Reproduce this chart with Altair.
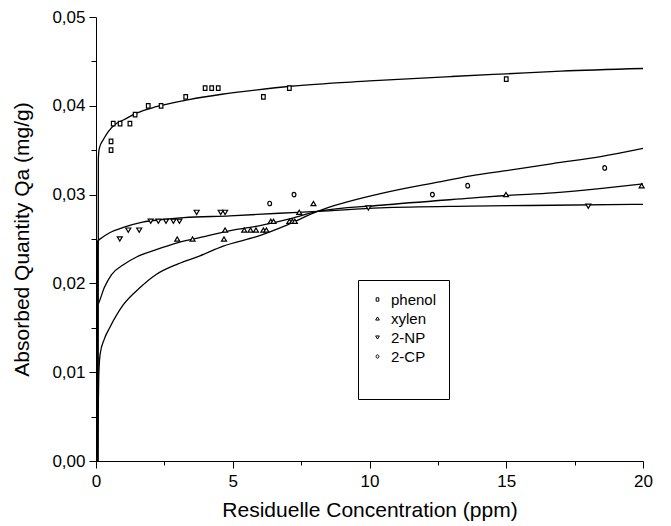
import altair as alt
import pandas as pd

# ---------------- data ----------------
series_names = ["phenol", "xylen", "2-NP", "2-CP"]

phenol_x = [0.55, 0.55, 0.63, 0.88, 1.24, 1.43, 1.91, 2.38, 3.28, 3.99, 4.23, 4.47, 6.12, 7.07, 15.0]
phenol_y = [0.035, 0.036, 0.038, 0.038, 0.038, 0.039, 0.040, 0.040, 0.041, 0.042, 0.042, 0.042, 0.041, 0.042, 0.043]

xylen_x = [2.97, 3.53, 4.68, 4.72, 5.42, 5.65, 5.85, 6.12, 6.23, 6.39, 6.49, 7.07, 7.18, 7.27, 7.43, 7.95, 14.99, 19.95]
xylen_y = [0.025, 0.025, 0.025, 0.026, 0.026, 0.026, 0.026, 0.026, 0.026, 0.027, 0.027, 0.027, 0.027, 0.027, 0.028, 0.029, 0.030, 0.031]

np_x = [0.87, 1.18, 1.58, 2.0, 2.28, 2.56, 2.83, 3.05, 3.68, 4.56, 4.72, 9.96, 18.0]
np_y = [0.025, 0.026, 0.026, 0.027, 0.027, 0.027, 0.027, 0.027, 0.028, 0.028, 0.028, 0.0285, 0.0287]

cp_x = [6.35, 7.24, 12.3, 13.59, 18.6]
cp_y = [0.029, 0.030, 0.030, 0.031, 0.033]

# fitted curves
phenol_cx = [0.08, 0.085, 0.12, 0.27, 0.45, 0.69, 1.0, 1.5, 2.2, 3.4, 4.6, 5.9, 7.1, 10, 13, 15, 17, 20]
phenol_cy = [0.0, 0.034, 0.0352, 0.0362, 0.0371, 0.0379, 0.0384, 0.0392, 0.0399, 0.0407, 0.0413, 0.0418, 0.0422, 0.0428, 0.0433, 0.0436, 0.0439, 0.0442]

np_cx = [0.04, 0.05, 0.2, 0.5, 1.0, 1.7, 2.5, 3.2, 4.9, 6.7, 8.1, 10.4, 13.7, 16.7, 20]
np_cy = [0.0, 0.0247, 0.0251, 0.0257, 0.0263, 0.0269, 0.0272, 0.0274, 0.0276, 0.0279, 0.0281, 0.0285, 0.0287, 0.0288, 0.0289]

xylen_cx = [0.04, 0.05, 0.1, 0.3, 0.57, 1.0, 1.5, 2.2, 3.0, 4.0, 5.0, 6.0, 7.0, 8.1, 10.4, 13.7, 15, 16.7, 18.5, 20]
xylen_cy = [0.0, 0.0175, 0.0178, 0.0195, 0.021, 0.0221, 0.023, 0.0238, 0.0246, 0.0253, 0.026, 0.0265, 0.0272, 0.0281, 0.0288, 0.0296, 0.0299, 0.0302, 0.0307, 0.0312]

cp_cx = [0.05, 0.1, 0.15, 0.3, 0.5, 1.0, 1.6, 2.2, 3.0, 3.8, 4.65, 5.9, 7.0, 8.1, 10.4, 12.5, 13.7, 15, 16.7, 18.5, 20]
cp_cy = [0.0, 0.0095, 0.012, 0.0137, 0.015, 0.0176, 0.0195, 0.021, 0.0222, 0.0231, 0.0242, 0.0253, 0.0266, 0.0281, 0.0301, 0.0314, 0.0321, 0.0327, 0.0335, 0.0343, 0.0352]

x_ticks = [0, 2.5, 5, 7.5, 10, 12.5, 15, 17.5, 20]
y_ticks = [0, 0.005, 0.01, 0.015, 0.02, 0.025, 0.03, 0.035, 0.04, 0.045, 0.05]

# ---------------- tables ----------------
def table(name, xs, ys):
    return pd.DataFrame({"x": xs, "y": ys, "series": name})

pts = pd.concat([
    table("phenol", phenol_x, phenol_y),
    table("xylen", xylen_x, xylen_y),
    table("2-NP", np_x, np_y),
    table("2-CP", cp_x, cp_y),
])
curves = pd.concat([
    table("phenol", phenol_cx, phenol_cy),
    table("xylen", xylen_cx, xylen_cy),
    table("2-NP", np_cx, np_cy),
    table("2-CP", cp_cx, cp_cy),
])

FONT = "Liberation Sans"
rect_shape = "M-0.36,-0.45L0.36,-0.45L0.36,0.45L-0.36,0.45Z"
tri_up = "M-0.5,0.42L0.5,0.42L0,-0.42Z"
tri_down = "M-0.5,-0.42L0.5,-0.42L0,0.42Z"
oval = "M-0.38,0A0.38,0.45 0 1,0 0.38,0A0.38,0.45 0 1,0 -0.38,0Z"

x_enc = alt.X(
    "x:Q",
    scale=alt.Scale(domain=[0, 20], nice=False, zero=False),
    axis=alt.Axis(
        title="Residuelle Concentration (ppm)",
        values=x_ticks,
        labelExpr="datum.value % 5 == 0 ? format(datum.value, 'd') : ''",
        tickSize={"condition": {"test": "datum.value % 5 == 0", "value": 7}, "value": 4},
        labelFlush=False,
        labelOverlap=False,
        labelPadding=5,
        titlePadding=10,
    ),
)
y_enc = alt.Y(
    "y:Q",
    scale=alt.Scale(domain=[0, 0.05], nice=False, zero=True),
    axis=alt.Axis(
        title="Absorbed Quantity Qa (mg/g)",
        values=y_ticks,
        labelExpr="round(datum.value * 1000) % 10 == 0 ? replace(format(datum.value, '.2f'), '.', ',') : ''",
        tickSize={"condition": {"test": "round(datum.value * 1000) % 10 == 0", "value": 7}, "value": 5},
        labelFlush=False,
        labelOverlap=False,
        labelPadding=4,
        titlePadding=19,
    ),
)

legend_cfg = dict(
    title=" ",
    titleOrient="bottom",
    titleFontSize=16,
    titlePadding=6,
    orient="none",
    legendX=262,
    legendY=263,
    strokeColor="black",
    fillColor="white",
    padding=12,
    labelFont=FONT,
    labelFontSize=15,
    labelColor="black",
    labelOffset=6,
    symbolSize=55,
    symbolFillColor="white",
    symbolStrokeWidth=1.0,
    rowPadding=3,
)

lines = alt.Chart(curves).mark_line(color="black", strokeWidth=1.3, interpolate="monotone").encode(
    x=x_enc, y=y_enc, detail="series:N"
)

points = alt.Chart(pts).mark_point(
    filled=False, fill="white", fillOpacity=1, strokeWidth=1.2, opacity=1, size=100
).encode(
    x=x_enc,
    y=y_enc,
    color=alt.Color(
        "series:N",
        scale=alt.Scale(domain=series_names, range=["black", "black", "black", "black"]),
        legend=alt.Legend(**legend_cfg),
    ),
    shape=alt.Shape(
        "series:N",
        scale=alt.Scale(domain=series_names, range=[rect_shape, tri_up, tri_down, oval]),
        legend=alt.Legend(**legend_cfg),
    ),
)

chart = (
    alt.layer(lines, points)
    .properties(
        width=547,
        height=444,
        autosize=alt.AutoSizeParams(type="none"),
        padding={"left": 88, "top": 9, "right": 20, "bottom": 60},
    )
    .configure_view(stroke=None)
    .configure_axis(
        labelFont=FONT,
        titleFont=FONT,
        labelFontSize=17,
        titleFontSize=21,
        titleFontWeight="normal",
        labelColor="black",
        titleColor="black",
        domainColor="black",
        tickColor="black",
        domainWidth=1,
        tickWidth=1,
        grid=False,
    )
)

chart.save("out.html", embed_options={"renderer": "svg", "actions": False})
